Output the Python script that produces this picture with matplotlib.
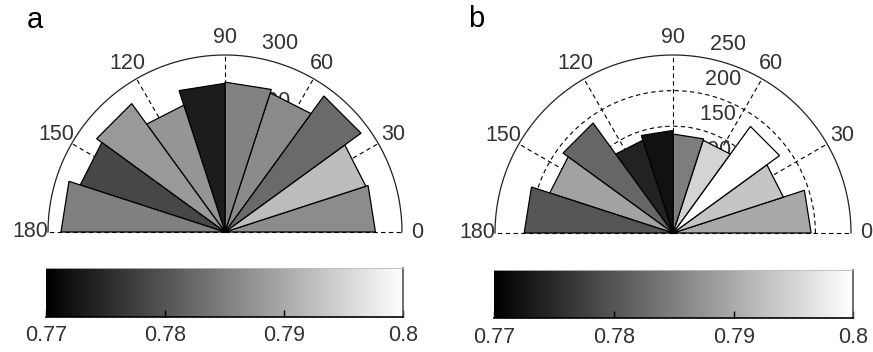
import matplotlib

matplotlib.use("Agg")
import matplotlib.pyplot as plt
import numpy as np
from matplotlib.colors import Normalize

W, H = 873, 352
plt.rcParams["font.family"] = ["Liberation Sans", "DejaVu Sans"]

# direction bins (degrees) shared by both roses
bin_edges = [0, 18, 36, 54, 72, 90, 108, 126, 144, 162, 180]
angle_ticks = [0, 30, 60, 90, 120, 150, 180]

# panel a: counts per bin and the shade value of each bin
counts_a = [255, 251, 285, 248, 254, 252, 226, 269, 258, 278]
shade_a = [0.7865, 0.7921, 0.7825, 0.7862, 0.7853, 0.7733, 0.7875, 0.7880, 0.7784, 0.7851]
rings_a = [100, 200, 300]

# panel b
counts_b = [194, 163, 185, 137, 139, 144, 137, 191, 182, 209]
shade_b = [0.7898, 0.7931, 0.8000, 0.7949, 0.7847, 0.7720, 0.7740, 0.7820, 0.7891, 0.7800]
rings_b = [50, 100, 150, 200, 250]

cbar_ticks = [0.77, 0.78, 0.79, 0.8]
cbar_labels = ["0.77", "0.78", "0.79", "0.8"]
VMIN, VMAX = 0.77, 0.80

cmap = plt.get_cmap("gray")
norm = Normalize(VMIN, VMAX)

LABEL_SIZE = 15.5
TEXT_GREY = "#333333"


def px_axes(fig, x0, y0, x1, y1):
    # pixel box measured from the top-left corner
    return fig.add_axes([x0 / W, 1 - y1 / H, (x1 - x0) / W, (y1 - y0) / H])


def rose(fig, box, cx, cy, radius_px, counts, shades, rings, letter):
    x0, y0, x1, y1 = box
    ax = px_axes(fig, x0, y0, x1, y1)
    rmax = rings[-1]
    k = rmax / radius_px
    ax.set_xlim((x0 - cx) * k, (x1 - cx) * k)
    ax.set_ylim((cy - y1) * k, (cy - y0) * k)
    ax.axis("off")

    # grid: dashed rings, solid outer ring, dashed spokes
    t = np.linspace(0, np.pi, 300)
    for r in rings[:-1]:
        ax.plot(r * np.cos(t), r * np.sin(t), color="k", lw=0.8,
                ls=(0, (4, 3)), zorder=1)
    ax.plot(rmax * np.cos(t), rmax * np.sin(t), color="#222222", lw=0.9, zorder=1)
    for a in angle_ticks:
        th = np.radians(a)
        ax.plot([0, rmax * np.cos(th)], [0, rmax * np.sin(th)], color="k",
                lw=0.8, ls=(0, (4, 3)), zorder=1)
        if a == 0:
            # keep the 0 just inside the right edge
            ax.text(1.05 * rmax, 0, "0", ha="left", va="center",
                    fontsize=LABEL_SIZE, color=TEXT_GREY, clip_on=False)
            continue
        ax.text(1.1 * rmax * np.cos(th), 1.1 * rmax * np.sin(th), str(a),
                ha="center", va="center", fontsize=LABEL_SIZE, color=TEXT_GREY,
                clip_on=False, zorder=1)

    # ring labels sit at 82 degrees, underneath the wedges
    c82, s82 = np.cos(np.radians(82)), np.sin(np.radians(82))
    step = rings[1] - rings[0]
    for r in rings:
        rr = r + step / 20
        ax.text(rr * c82, rr * s82, "  " + str(r), ha="left", va="bottom",
                fontsize=LABEL_SIZE, color=TEXT_GREY, clip_on=False, zorder=1.5)

    # wedges with straight outer edges
    for i, (n, v) in enumerate(zip(counts, shades)):
        t0, t1 = np.radians(bin_edges[i]), np.radians(bin_edges[i + 1])
        ax.fill([0, n * np.cos(t0), n * np.cos(t1)],
                [0, n * np.sin(t0), n * np.sin(t1)],
                facecolor=cmap(norm(v)), edgecolor="k", lw=0.9, zorder=2)

    fig.text(letter[1] / W, 1 - letter[2] / H, letter[0], fontsize=21,
             ha="left", va="baseline")
    return ax


def colorbar(fig, box):
    ax = px_axes(fig, *box)
    grad = np.linspace(VMIN, VMAX, 256).reshape(1, -1)
    ax.imshow(grad, cmap=cmap, norm=norm, aspect="auto",
              extent=[VMIN, VMAX, 0, 1], interpolation="bilinear")
    ax.set_xlim(VMIN, VMAX)
    ax.set_ylim(0, 1)
    ax.set_yticks([])
    ax.set_xticks(cbar_ticks)
    ax.set_xticklabels(cbar_labels)
    ax.tick_params(axis="x", direction="in", length=5, width=1, pad=6,
                   labelsize=LABEL_SIZE, labelcolor=TEXT_GREY)
    ax.spines["left"].set_visible(False)
    ax.spines["top"].set_color("#bbbbbb")
    ax.spines["top"].set_linewidth(0.6)
    ax.spines["bottom"].set_linewidth(1.2)
    ax.spines["right"].set_color("#555555")
    ax.spines["right"].set_linewidth(1.2)
    return ax


fig = plt.figure(figsize=(W / 100, H / 100), dpi=100, facecolor="white")

rose(fig, (0, 0, 436, 242), 225, 232, 177, counts_a, shade_a, rings_a, ("a", 27, 28))
rose(fig, (437, 0, 873, 243), 673, 233, 178, counts_b, shade_b, rings_b, ("b", 468, 27))

colorbar(fig, (45.7, 268.3, 403.3, 316.7))
colorbar(fig, (494.3, 270, 853.3, 318.3))

fig.savefig("out.png", dpi=100, facecolor="white")
